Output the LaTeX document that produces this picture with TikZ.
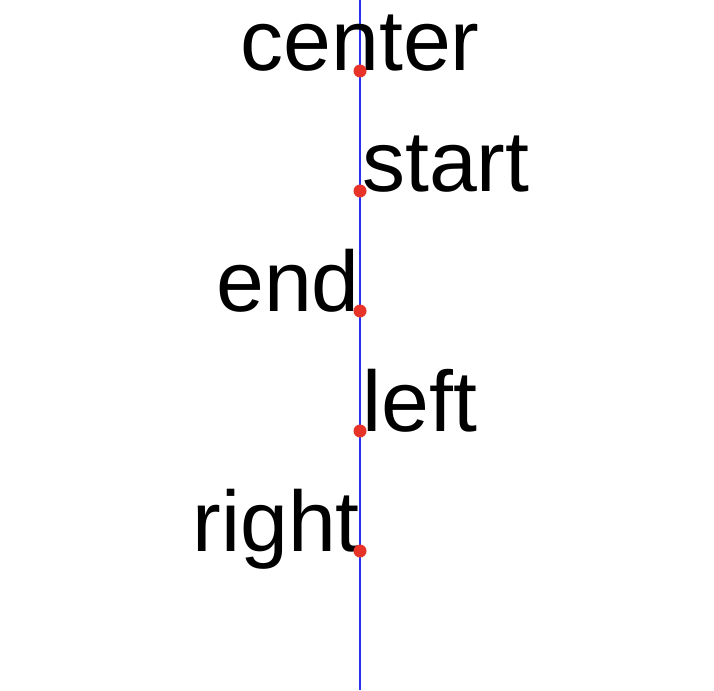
\documentclass[tikz,border=0pt]{standalone}
\usepackage{fontspec}
\setmainfont{Liberation Sans}
\usetikzlibrary{positioning}
\definecolor{dotred}{RGB}{232,52,40}
\definecolor{guideblue}{RGB}{40,50,240}

\begin{document}
\begin{tikzpicture}[
		x=1pt, y=-1pt,
		label/.style = {inner sep=0pt, font=\fontsize{86}{100}\selectfont},
		anchorpt/.style = {fill=dotred},
		guide/.style = {draw=guideblue, line width=1.2pt}]
		
		\useasboundingbox (0,0) rectangle (714,690);
		
		\coordinate (top) at (360,0);
		\coordinate (bottom) at (360,690);
		\draw[guide] (top) -- (bottom);
		
		\foreach \i/\yy in {1/71,2/191,3/311,4/431,5/551}
		\coordinate (p\i) at (360,\yy);
		
		\node[label, anchor=base] (center) at (p1) {center};
		\node[label, anchor=base west, xshift=2pt] (start) at (p2) {start};
		\node[label, anchor=base east] (end) at (p3) {end};
		\node[label, anchor=base west, xshift=2pt] (left) at (p4) {left};
		\node[label, anchor=base east] (right) at (p5) {right};
		
		\foreach \i in {1,...,5}
		\fill[anchorpt] (p\i) circle[radius=6.5];
		
	\end{tikzpicture}
\end{document}
